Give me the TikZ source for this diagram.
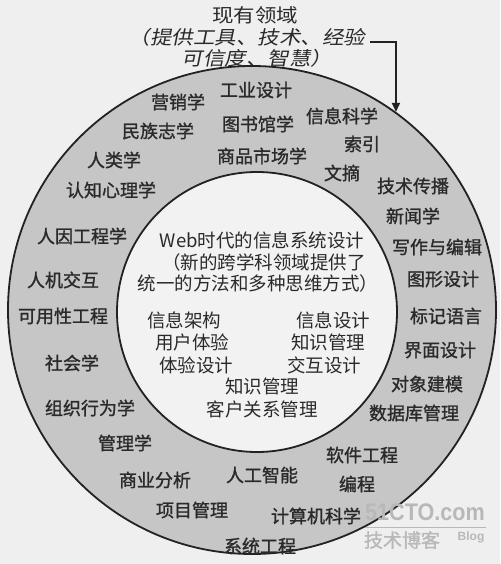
\documentclass[tikz,border=0pt]{standalone}
\usepackage{fontspec}
\usetikzlibrary{arrows.meta}
\newfontfamily\cjk{Noto Sans CJK SC}
\newfontfamily\cjkb[FakeBold=1.2]{Noto Sans CJK SC}
\newfontfamily\cjks[FakeSlant=0.18]{Noto Sans CJK SC}
\newfontfamily\wmfont{Liberation Sans}
\definecolor{bgc}{HTML}{EFEFEF}
\definecolor{ringc}{HTML}{C6C6C6}
\definecolor{inc}{HTML}{F2F2F2}
\definecolor{linec}{HTML}{222222}
\definecolor{txt}{HTML}{2A2A2A}
\definecolor{wm}{HTML}{B8B8B8}
\tikzset{
  toplab/.style={font=\cjks\fontsize{21.5}{22}\selectfont, text=txt, inner sep=0pt, yscale=0.88},
  ringlab/.style={font=\cjkb\fontsize{18}{20}\selectfont, text=txt, inner sep=0pt},
  innlab/.style={font=\cjk\fontsize{18.5}{20}\selectfont, text=txt, inner sep=0pt},
  wmlab/.style={text=wm, inner sep=0pt},
  arr/.style={draw=linec, line width=1.8pt, -{Triangle[length=9pt,width=8pt]}},
}
\begin{document}
\begin{tikzpicture}[x=1pt,y=-1pt]
\useasboundingbox (0,0) rectangle (500,564);
\fill[bgc] (0,0) rectangle (500,564);
\node[circle, draw=linec, line width=1.8pt, fill=ringc, minimum size=488pt, inner sep=0pt] (outer) at (252,310) {};
\node[circle, draw=linec, line width=1.8pt, fill=inc, minimum size=280pt, inner sep=0pt] (inner) at (257,312) {};
% top label
\node[toplab, font=\cjk\fontsize{21.5}{22}\selectfont] (t1) at (255,15) {现有领域};
\node[toplab] (t2) at (247,37) {（提供工具、技术、经验};
\node[toplab] (t3) at (257,58) {可信度、智慧）};
\coordinate (s) at (370,42);
\draw[arr] (s) -| (outer.54.7);
% ring labels
\node[ringlab] (r1) at (178,102) {营销学};
\node[ringlab] (r2) at (256,90) {工业设计};
\node[ringlab] (r3) at (258,124) {图书馆学};
\node[ringlab] (r4) at (342,116) {信息科学};
\node[ringlab] (r5) at (158,131) {民族志学};
\node[ringlab] (r6) at (362,144) {索引};
\node[ringlab] (r7) at (262,156) {商品市场学};
\node[ringlab] (r8) at (114,160) {人类学};
\node[ringlab] (r9) at (342,173) {文摘};
\node[ringlab] (r10) at (111,190) {认知心理学};
\node[ringlab] (r11) at (413,186) {技术传播};
\node[ringlab] (r12) at (413,216) {新闻学};
\node[ringlab] (r13) at (82,236) {人因工程学};
\node[ringlab] (r14) at (437,247) {写作与编辑};
\node[ringlab] (r15) at (63,280) {人机交互};
\node[ringlab] (r16) at (443,279) {图形设计};
\node[ringlab] (r17) at (63,316) {可用性工程};
\node[ringlab] (r18) at (446,316) {标记语言};
\node[ringlab] (r19) at (72,363) {社会学};
\node[ringlab] (r20) at (440,350) {界面设计};
\node[ringlab] (r21) at (427,384) {对象建模};
\node[ringlab] (r22) at (90,408) {组织行为学};
\node[ringlab] (r23) at (414,413) {数据库管理};
\node[ringlab] (r24) at (125,443) {管理学};
\node[ringlab] (r25) at (362,455) {软件工程};
\node[ringlab] (r26) at (155,480) {商业分析};
\node[ringlab] (r27) at (262,475) {人工智能};
\node[ringlab] (r28) at (357,484) {编程};
\node[ringlab] (r29) at (192,510) {项目管理};
\node[ringlab] (r30) at (316,516) {计算机科学};
\node[ringlab] (r31) at (260,546) {系统工程};
% inner labels
\node[innlab] (i1) at (262,240) {Web时代的信息系统设计};
\node[innlab] (i2) at (264,262) {（新的跨学科领域提供了};
\node[innlab] (i3) at (258,283) {统一的方法和多种思维方式）};
\node[innlab] (i4) at (184,320) {信息架构};
\node[innlab] (i5) at (192,342) {用户体验};
\node[innlab] (i6) at (196,365) {体验设计};
\node[innlab] (i7) at (333,320) {信息设计};
\node[innlab] (i8) at (328,342) {知识管理};
\node[innlab] (i9) at (324,365) {交互设计};
\node[innlab] (i10) at (262,386) {知识管理};
\node[innlab] (i11) at (262,409) {客户关系管理};
% watermark
\node[wmlab, font=\wmfont\bfseries\fontsize{24}{24}\selectfont, xscale=0.9] (w1) at (425,512) {51CTO.com};
\draw[wm, line width=1pt] (365,527) -- (486,527);
\node[wmlab, font=\cjkb\fontsize{19}{20}\selectfont] (w2) at (402,540) {技术博客};
\node[wmlab, font=\wmfont\bfseries\fontsize{12}{12}\selectfont] (w3) at (471,537) {Blog};
\end{tikzpicture}
\end{document}
